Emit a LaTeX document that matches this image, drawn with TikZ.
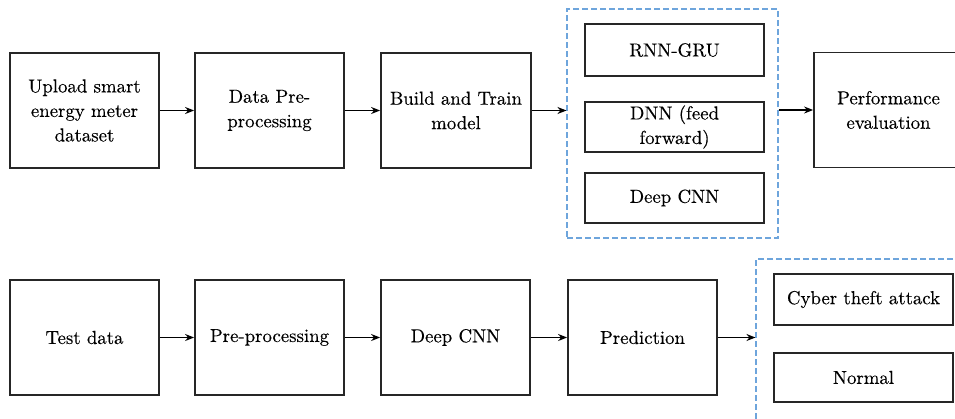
\documentclass[tikz,border=0pt]{standalone}
\usepackage{fontspec}
\setmainfont{lmroman10-regular.otf}[FakeBold=0.3]
\usetikzlibrary{arrows.meta}
\definecolor{dashblue}{RGB}{110,165,220}
\begin{document}
\begin{tikzpicture}[x=1pt,y=-1pt,
  box/.style={draw=black!85,line width=1.8pt,rectangle,align=center,inner sep=2pt,
    font=\rmfamily\fontsize{18.8}{24.5}\selectfont},
  bigbox/.style={box,minimum width=149pt,minimum height=115pt},
  smallbox/.style={box,minimum width=179pt},
  group/.style={draw=dashblue,line width=1.1pt,dash pattern=on 6pt off 3pt,rectangle},
  arr/.style={-{Stealth[length=9pt,width=7pt]},line width=1.6pt,black}]
\useasboundingbox (0,0) rectangle (955,418);
\clip (0,0) rectangle (955,418);
% top row
\node[bigbox] (up) at (84.5,110.5) {Upload smart\\energy meter\\dataset};
\node[bigbox] (dp) at (269.5,110.5) {Data Pre-\\processing};
\node[bigbox,minimum width=150pt] (bt) at (456,110.5) {Build and Train\\model};
\node[group,minimum width=211pt,minimum height=229pt] (g1) at (672.5,123.5) {};
\node[smallbox,minimum height=52pt] (rnn) at (674.5,50) {RNN-GRU};
\node[smallbox,minimum height=50pt] (dnn) at (674.5,127) {DNN (feed\\forward)};
\node[smallbox,minimum height=50pt] (cnn) at (674.5,198) {Deep CNN};
\node[bigbox] (pe) at (888.5,110) {Performance\\evaluation};
\draw[arr] (up) -- (dp);
\draw[arr] (dp) -- (bt);
\draw[arr] (bt.east) -- (bt.east -| g1.west);
\draw[arr] (pe.west -| g1.east) -- (pe.west);
% bottom row
\node[bigbox] (td) at (84.5,337.5) {Test data};
\node[bigbox] (pp) at (269.5,337.5) {Pre-processing};
\node[bigbox] (dc) at (455.5,337.5) {Deep CNN};
\node[bigbox] (pr) at (642.5,337.5) {Prediction};
\node[group,minimum width=220pt,minimum height=180pt] (g2) at (866,349) {};
\node[smallbox,minimum height=51pt] (cy) at (863.5,299.5) {Cyber theft attack};
\node[smallbox,minimum height=49pt] (no) at (863.5,377.5) {Normal};
\draw[arr] (td) -- (pp);
\draw[arr] (pp) -- (dc);
\draw[arr] (dc) -- (pr);
\draw[arr] (pr.east) -- (pr.east -| g2.west);
\end{tikzpicture}
\end{document}
